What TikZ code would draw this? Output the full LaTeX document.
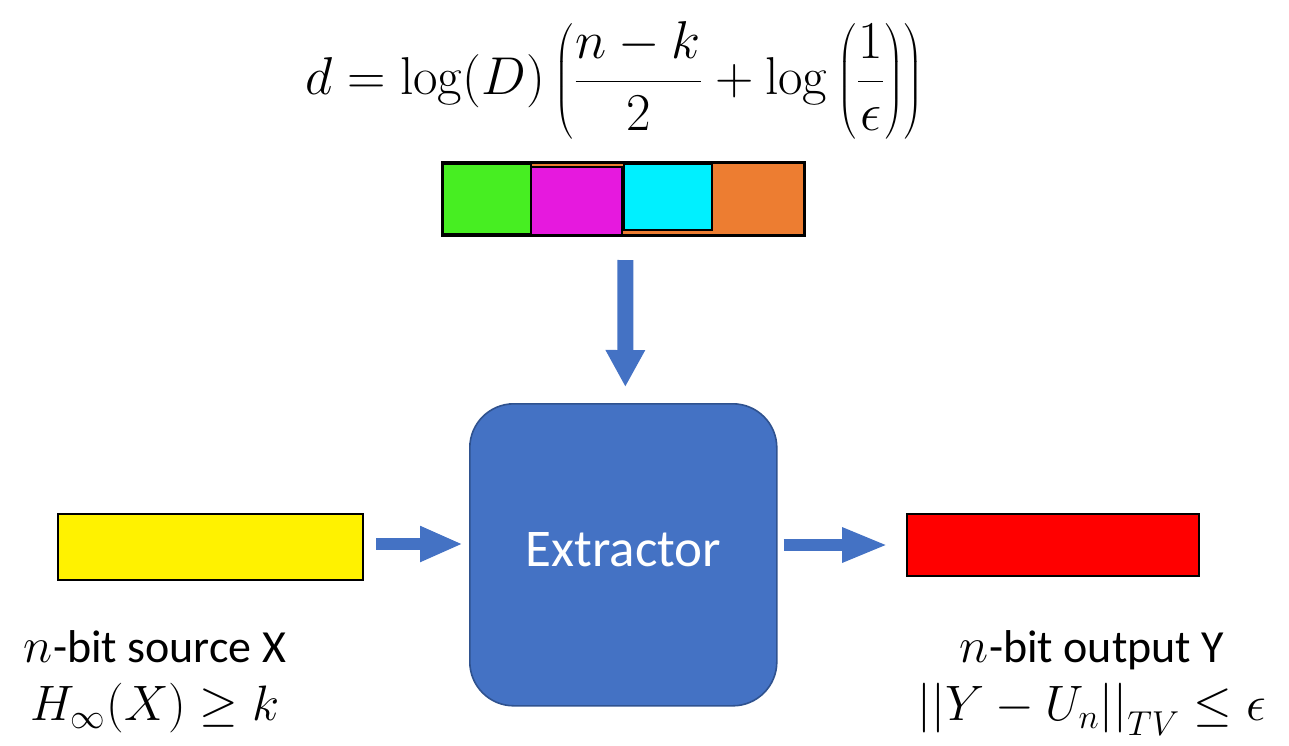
\documentclass[tikz,border=0pt]{standalone}
\usepackage{graphicx}
\usepackage[no-math]{fontspec}
\setmainfont{Carlito}
\usetikzlibrary{arrows.meta}
\definecolor{exblue}{HTML}{4472C4}
\definecolor{exedge}{HTML}{2F528F}
\definecolor{sgreen}{HTML}{47EE22}
\definecolor{smag}{HTML}{E619DE}
\definecolor{scyan}{HTML}{00F0FF}
\definecolor{sorange}{HTML}{ED7D31}
\definecolor{sbrown}{HTML}{A65A22}
\begin{document}
\begin{tikzpicture}[x=0.5pt,y=-0.5pt,
  box/.style={draw=black, line width=1pt, inner sep=0pt, anchor=north west},
  seg/.style={draw=black, line width=1pt, inner sep=0pt, anchor=north west},
  fatarrow/.style={draw=exblue, line width=6pt, -{Triangle[length=21.5pt,width=16.5pt]}},
  lbl/.style={align=center, font=\fontsize{23}{28}\selectfont, inner sep=0pt}]
\useasboundingbox (0,0) rectangle (1289,745);

% formula
\node[inner sep=0pt, font=\fontsize{24.88}{30}\selectfont] (formula) at (614,80)
  {\scalebox{1.07}{$\displaystyle d=\log(D)\left(\frac{n-k}{2}+\log\left(\frac{1}{\epsilon}\right)\right)$}};

% seed bar
\node[seg, fill=sorange, draw=sbrown, minimum width=181pt, minimum height=36.5pt] (orange) at (441,161) {};
\node[seg, fill=sgreen, minimum width=44.5pt, minimum height=35pt] (green) at (441,163) {};
\node[seg, fill=smag, minimum width=45.5pt, minimum height=34pt] (mag) at (530,166) {};
\node[seg, fill=scyan, minimum width=44pt, minimum height=33pt] (cyan) at (623,163) {};
\node[seg, line width=1.5pt, minimum width=181pt, minimum height=36.5pt] (seed) at (441,161) {};

% extractor
\node[draw=exedge, line width=0.8pt, fill=exblue, rounded corners=22pt, anchor=north west,
      minimum width=153.5pt, minimum height=151pt, text=white,
      font=\fontsize{26.5}{30}\selectfont] (ext) at (469,403) {\raisebox{5pt}{Extractor}};

% source and output
\node[box, fill=yellow, minimum width=152.5pt, minimum height=33pt] (src) at (57,513) {};
\node[box, fill=red, minimum width=146pt, minimum height=31pt] (out) at (906,513) {};

% arrows
\draw[draw=exblue, line width=8pt, -{Triangle[length=18.5pt,width=18.5pt]},
      shorten <=11.5pt, shorten >=8pt] ([xshift=1pt]seed.south) -- ([xshift=1pt]ext.north);
\draw[fatarrow, shorten <=6pt, shorten >=3pt] ([yshift=1.5pt]src.east) -- ([yshift=1.5pt]src.east -| ext.west);
\draw[fatarrow, -{Triangle[length=23pt,width=16pt]}, shorten <=3pt, shorten >=9pt] (out.west -| ext.east) -- (out.west);

% labels
\node[lbl] (srclbl) at (155,682) {$n$-bit source X\\[1pt] $H_\infty(X)\geq k$};
\node[lbl] (outlbl) at (1092,683) {$n$-bit output Y\\[1pt] $\bigl|\bigl|Y-U_n\bigr|\bigr|_{TV}\leq\epsilon$};
\end{tikzpicture}
\end{document}
